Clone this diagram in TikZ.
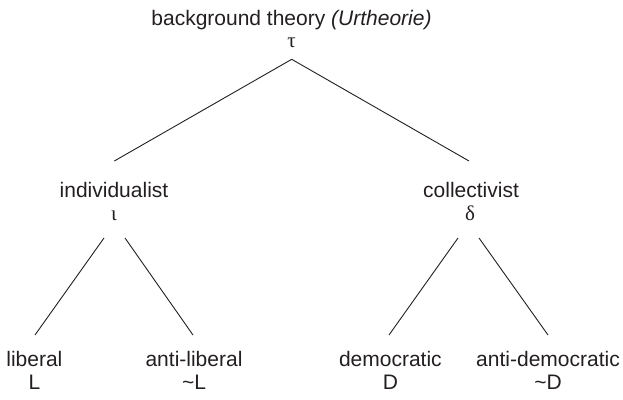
\documentclass[tikz,border=0pt]{standalone}
\usepackage{fontspec}
\setmainfont{Liberation Sans}
\newfontfamily\grk{Liberation Serif}
\definecolor{ink}{HTML}{231F20}
\begin{document}
\begin{tikzpicture}[x=1pt,y=-1pt,
  lbl/.style={anchor=base,inner sep=0pt,text=ink,font=\fontsize{21}{25}\selectfont},
  sym/.style={anchor=base,inner sep=0pt,text=ink,font=\grk\fontsize{21}{25}\selectfont},
  branch/.style={draw=ink,line width=0.9pt}]
\useasboundingbox (0,0) rectangle (623,399);
% labels
\node[lbl] (root) at (291.5,25) {background theory \textit{(Urtheorie)}};
\node[sym] (tau) at (291.5,47) {τ};
\node[lbl] (ind) at (114,197) {individualist};
\node[sym] (iota) at (114,220) {ι};
\node[lbl] (col) at (471,197) {collectivist};
\node[sym] (delta) at (470,220) {δ};
\node[lbl] (lib) at (34.4,366) {liberal};
\node[lbl] (libs) at (34.4,389) {L};
\node[lbl] (alib) at (194,366) {anti-liberal};
\node[lbl] (alibs) at (194,389) {\textasciitilde L};
\node[lbl] (dem) at (390.4,366) {democratic};
\node[lbl] (dems) at (390.4,389) {D};
\node[lbl] (adem) at (548,366) {anti-democratic};
\node[lbl] (adems) at (548,389) {\textasciitilde D};
% connector end points
\coordinate (apex) at (291.7,59.3);
\coordinate (indTop) at (114.3,161);
\coordinate (colTop) at (469,161);
\coordinate (iotaL) at (104,238);
\coordinate (iotaR) at (125,238);
\coordinate (deltaL) at (458,238);
\coordinate (deltaR) at (479,238);
\coordinate (libTop) at (35,335);
\coordinate (alibTop) at (193,335);
\coordinate (demTop) at (389,335);
\coordinate (ademTop) at (548,335);
% connectors
\draw[branch] (indTop) -- (apex) -- (colTop);
\draw[branch] (iotaL) -- (libTop);
\draw[branch] (iotaR) -- (alibTop);
\draw[branch] (deltaL) -- (demTop);
\draw[branch] (deltaR) -- (ademTop);
\end{tikzpicture}
\end{document}
